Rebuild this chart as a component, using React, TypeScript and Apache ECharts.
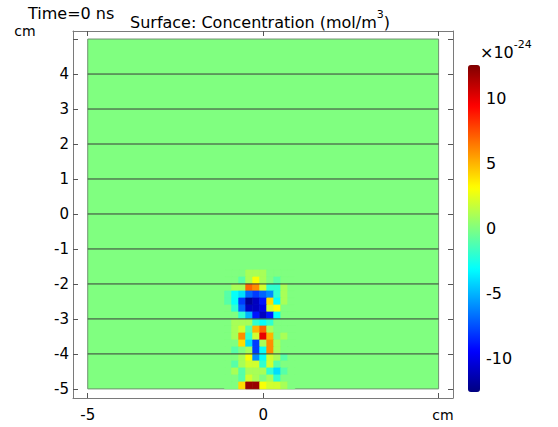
import React, { useEffect, useRef } from 'react';
import * as echarts from 'echarts';

// ---- data ----
const domainX = [-5, 5];
const domainY = [-5, 5];
const boundaryY = [-4, -3, -2, -1, 0, 1, 2, 3, 4];
const xTicks = [-5, 0, 5];
const xLabels = [-5, 0];
const yTicks = [-5, -4, -3, -2, -1, 0, 1, 2, 3, 4, 5];
const yLabels = [-5, -4, -3, -2, -1, 0, 1, 2, 3, 4];
const colorTicks = [-10, -5, 0, 5, 10];
const colorRange = [-12.6, 12.6];
const cellSize = 0.2;
const cellX = [-1.0, -0.8, -0.6, -0.4, -0.2, 0, 0.2, 0.4, 0.6, 0.8];
const cellY = [-1.7, -1.9, -2.1, -2.3, -2.5, -2.7, -2.9, -3.1, -3.3, -3.5, -3.7, -3.9, -4.1, -4.3, -4.5, -4.7, -4.9];
// concentration (x1e-24 mol/m^3), one row per cellY, one column per cellX
const concentration = [
  [0, 0, 0, 1, 1, 1, 0, 0, 0, 0],
  [0, 0, -1, 1, 3, 1, 0, -1, 0, 0],
  [0, 1, 1, 7, 6, 2, -2, -2, 1, 0],
  [-1, -3, -4, -7, -8, -7, -6, -2, 1, 0],
  [-1, -3, -8, -12, -11, -9, 4, -3, 1, 0],
  [0, -2, -7, -11, -11, -10, 2, 3, 0, 0],
  [0, 0, -2, -5, -9, -11, -9, -3, 0, 0],
  [0, 1, 1, 1, -2, -3, -2, 0, 0, 0],
  [0, 1, 2, -1, 5, 7, 1, 0, 0, 0],
  [0, 1, 6, -2, 2, 10, 5, 0, 1, 0],
  [0, 0, 4, -4, -8, 1, 6, 1, 0, 0],
  [0, -1, 0, 1, -8, -3, 6, 1, 0, 0],
  [0, 0, 1, 3, -6, -3, 2, 1, -1, 0],
  [0, -1, 1, 2, 2, -2, 2, -1, 0, 0],
  [0, 1, -1, 1, 1, 1, -2, -4, -1, 0],
  [0, 0, -1, 2, 1, 0, 1, -2, 0, 0],
  [0, 0, 4, 12, 12, 3, 2, 2, 1, 0],
];
const jetColors = ['#000080', '#0000ff', '#0080ff', '#00ffff', '#80ff80', '#ffff00', '#ff8000', '#ff0000', '#800000'];

const FONT = 'DejaVu Sans';

export default function App() {
  const ref = useRef<HTMLDivElement>(null);
  useEffect(() => {
    if (!ref.current) return;
    const chart = echarts.init(ref.current, undefined, { renderer: 'svg' });

    const surfaceData: number[][] = [];
    surfaceData.push([
      (domainX[0] + domainX[1]) / 2,
      (domainY[0] + domainY[1]) / 2,
      0,
      domainX[1] - domainX[0],
      domainY[1] - domainY[0],
    ]);
    cellY.forEach((y, i) => {
      cellX.forEach((x, j) => {
        surfaceData.push([x, y, concentration[i][j], cellSize, cellSize]);
      });
    });

    const frameLine = { show: true, onZero: false, lineStyle: { color: '#7a7a7a', width: 1 } };
    const tickStyle = { color: '#555', width: 1 };

    chart.setOption({
      animation: false,
      title: [
        {
          text: 'Time=0 ns',
          left: 28,
          top: 5.5,
          padding: 0,
          textStyle: { fontFamily: FONT, fontSize: 16, fontWeight: 'normal', color: '#000', lineHeight: 16 },
        },
        {
          text: '{a|Surface: Concentration (mol/m}{s|3}{a|)}',
          left: 130,
          top: 8.5,
          padding: 0,
          textStyle: {
            fontWeight: 'normal',
            rich: {
              a: { fontFamily: FONT, fontSize: 16, fontWeight: 'normal', color: '#000', lineHeight: 22, verticalAlign: 'bottom' },
              s: { fontFamily: FONT, fontSize: 11, fontWeight: 'normal', color: '#000', lineHeight: 14, verticalAlign: 'top' },
            },
          },
        },
        {
          text: '{a|×10}{s|-24}',
          left: 480,
          top: 38.5,
          padding: 0,
          textStyle: {
            fontWeight: 'normal',
            rich: {
              a: { fontFamily: FONT, fontSize: 16, fontWeight: 'normal', color: '#000', lineHeight: 22, verticalAlign: 'bottom' },
              s: { fontFamily: FONT, fontSize: 11, fontWeight: 'normal', color: '#000', lineHeight: 12, verticalAlign: 'top' },
            },
          },
        },
      ],
      grid: [
        { left: 73, top: 31, width: 380, height: 367, show: false },
        { left: 468, top: 65, width: 12, height: 327, show: false },
      ],
      xAxis: [
        {
          type: 'value', gridIndex: 0, min: -5.42, max: 5.41, position: 'bottom',
          axisLine: frameLine,
          splitLine: { show: false },
          axisTick: { show: true, inside: true, length: 5, customValues: xTicks, lineStyle: tickStyle },
          axisLabel: { show: true, customValues: xLabels, margin: 9, fontFamily: FONT, fontSize: 15, color: '#000' },
        },
        {
          type: 'value', gridIndex: 0, min: -5.42, max: 5.41, position: 'top',
          axisLine: frameLine,
          splitLine: { show: false },
          axisTick: { show: true, inside: true, length: 5, customValues: xTicks, lineStyle: tickStyle },
          axisLabel: { show: false, customValues: xTicks },
        },
        { type: 'value', gridIndex: 1, min: 0, max: 1, show: false },
      ],
      yAxis: [
        {
          type: 'value', gridIndex: 0, min: -5.26, max: 5.23, position: 'left',
          axisLine: frameLine,
          splitLine: { show: false },
          axisTick: { show: true, inside: true, length: 5, customValues: yTicks, lineStyle: tickStyle },
          axisLabel: { show: true, customValues: yLabels, margin: 4, fontFamily: FONT, fontSize: 15, color: '#000' },
        },
        {
          type: 'value', gridIndex: 0, min: -5.26, max: 5.23, position: 'right',
          axisLine: frameLine,
          splitLine: { show: false },
          axisTick: { show: true, inside: true, length: 5, customValues: yTicks, lineStyle: tickStyle },
          axisLabel: { show: false, customValues: yTicks },
        },
        {
          type: 'value', gridIndex: 1, min: colorRange[0], max: colorRange[1], position: 'right',
          axisLine: { show: false },
          splitLine: { show: false },
          axisTick: { show: false },
          axisLabel: { show: true, customValues: colorTicks, margin: 6, fontFamily: FONT, fontSize: 16, color: '#000' },
        },
      ],
      visualMap: {
        type: 'continuous',
        seriesIndex: 0,
        dimension: 2,
        min: colorRange[0],
        max: colorRange[1],
        orient: 'vertical',
        left: 468,
        top: 65,
        itemWidth: 12,
        itemHeight: 327,
        padding: 0,
        calculable: false,
        hoverLink: false,
        text: null,
        inRange: { color: jetColors },
      },
      graphic: [
        { type: 'text', x: 25, y: 31, style: { text: 'cm', fontFamily: FONT, fontSize: 14, fill: '#000', align: 'center', verticalAlign: 'middle' } },
        { type: 'text', x: 443, y: 415, style: { text: 'cm', fontFamily: FONT, fontSize: 14, fill: '#000', align: 'center', verticalAlign: 'middle' } },
      ],
      series: [
        {
          type: 'custom',
          xAxisIndex: 0,
          yAxisIndex: 0,
          encode: { x: 0, y: 1 },
          data: surfaceData,
          silent: true,
          renderItem: (params: any, api: any) => {
            const x = api.value(0);
            const y = api.value(1);
            const w = api.value(3);
            const h = api.value(4);
            const p0 = api.coord([x - w / 2, y + h / 2]);
            const p1 = api.coord([x + w / 2, y - h / 2]);
            const isDomain = params.dataIndex === 0;
            const color = api.visual('color');
            return {
              type: 'rect',
              shape: { x: p0[0], y: p0[1], width: p1[0] - p0[0], height: p1[1] - p0[1] },
              style: {
                fill: color,
                stroke: isDomain ? '#6f8f6f' : color,
                lineWidth: isDomain ? 1 : 0.6,
              },
            };
          },
        },
        {
          type: 'custom',
          xAxisIndex: 0,
          yAxisIndex: 0,
          encode: { x: 0, y: 1 },
          data: boundaryY.map((y) => [domainX[0], y, domainX[1]]),
          silent: true,
          renderItem: (params: any, api: any) => {
            const a = api.coord([api.value(0), api.value(1)]);
            const b = api.coord([api.value(2), api.value(1)]);
            return {
              type: 'line',
              shape: { x1: a[0], y1: a[1], x2: b[0], y2: b[1] },
              style: { stroke: '#3a3a3a', lineWidth: 1 },
            };
          },
        },
      ],
    });
    return () => chart.dispose();
  }, []);
  return <div ref={ref} style={{ width: 558, height: 427, position: 'absolute', left: 0, top: 0 }} />;
}
